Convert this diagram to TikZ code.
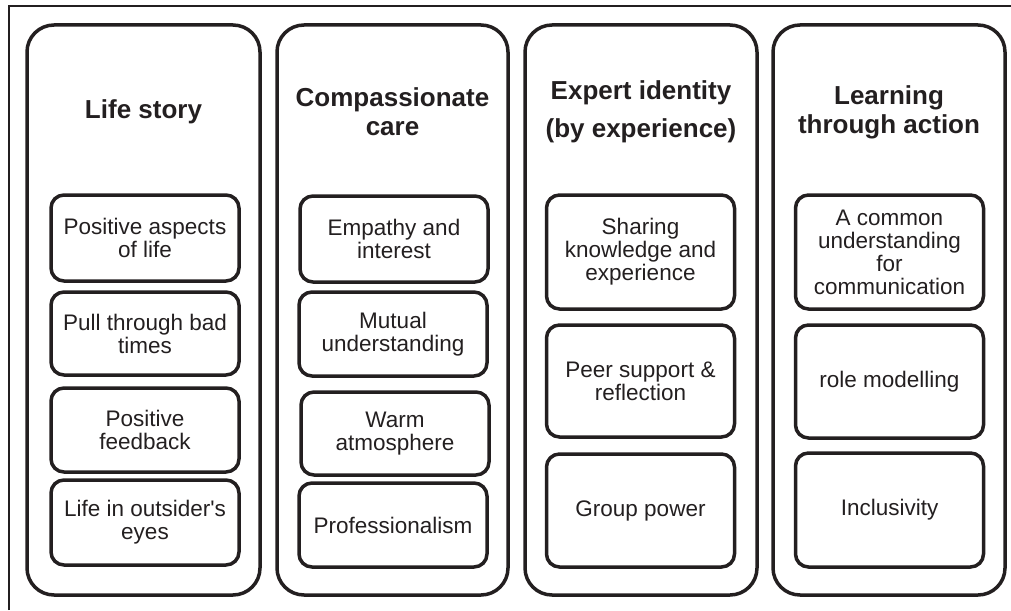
\documentclass[tikz,border=0pt]{standalone}
\usepackage{fontspec}
\setmainfont{Liberation Sans}
\definecolor{ink}{RGB}{35,31,32}

\begin{document}
\begin{tikzpicture}[x=1pt,y=-1pt,
		panel/.style={draw=ink, line width=3.5pt, rounded corners=27pt, minimum width=232pt, minimum height=570pt, inner sep=0pt},
		heading/.style={text=ink, align=center, font=\fontsize{26}{29}\selectfont\bfseries},
		item/.style={draw=ink, line width=3.5pt, rounded corners=13pt, minimum width=188pt, text=ink, align=center, inner sep=0pt, font=\fontsize{22.5}{23}\selectfont}]
				
				\useasboundingbox (0,0) rectangle (1011,610);
				\draw[ink, line width=2pt] (9,610) -- (9,6) -- (1011,6);
				
				% the four columns
				\node[panel, minimum width=233pt] (life) at (143.5,310) {};
				\node[panel, minimum width=231pt] (care) at (392.5,310) {};
				\node[panel] (expert) at (641,310) {};
				\node[panel] (learn) at (889,310) {};
				
				\node[heading] (lifet) at (143.5,112) {Life story};
				\node[heading] (caret) at (392.5,112) {Compassionate\\care};
				\node[heading] (expertt) at (641,112) {Expert identity\\[9pt](by experience)};
				\node[heading] (learnt) at (889,112) {Learning\\through action};
				
				% life story
				\node[item, minimum height=86pt] (life1) at (145,238) {Positive aspects\\of life};
				\node[item, minimum height=83pt] (life2) at (145,333.5) {Pull through bad\\times};
				\node[item, minimum height=84pt] (life3) at (145,430) {Positive\\feedback};
				\node[item, minimum height=85pt] (life4) at (145,522.5) {Life in outsider\textquotesingle s\\eyes};
				
				% compassionate care
				\node[item, minimum height=86pt] (care1) at (394,239) {Empathy and\\interest};
				\node[item, minimum height=84pt] (care2) at (393,334) {Mutual\\understanding};
				\node[item, minimum height=83pt] (care3) at (395,433.5) {Warm\\atmosphere};
				\node[item, minimum height=84pt] (care4) at (393,525) {Professionalism};
				
				% expert identity
				\node[item, minimum height=114pt] (expert1) at (640.5,252) {Sharing\\knowledge and\\experience};
				\node[item, minimum height=112pt] (expert2) at (640.5,381) {Peer support \&\\reflection};
				\node[item, minimum height=113pt] (expert3) at (640.5,510.5) {Group power};
				
				% learning through action
				\node[item, minimum height=114pt] (learn1) at (889.5,252) {A common\\understanding\\for\\communication};
				\node[item, minimum height=113pt] (learn2) at (889.5,381.5) {role modelling};
				\node[item, minimum height=114pt] (learn3) at (889.5,510) {Inclusivity};
			\end{tikzpicture}
\end{document}
